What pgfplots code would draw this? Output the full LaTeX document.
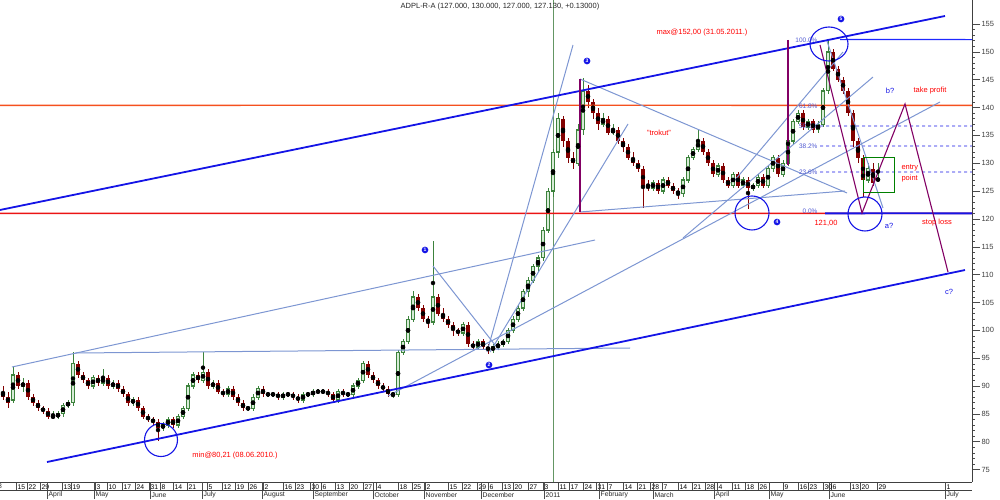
\documentclass[border=0pt]{standalone}
\usepackage{fontspec}
\setmainfont{Liberation Sans}
\usepackage{pgfplots}
\usepackage{pgfplotstable}
\pgfplotsset{compat=1.18}
\definecolor{upg}{RGB}{60,130,60}
\definecolor{dnr}{RGB}{130,0,0}
\definecolor{steel}{RGB}{125,150,210}
\definecolor{chblue}{RGB}{20,20,230}
\definecolor{hblue}{RGB}{30,40,255}
\definecolor{purp}{RGB}{130,0,100}
\definecolor{fibred}{RGB}{245,80,30}
\definecolor{hred}{RGB}{235,20,20}
\definecolor{fibtxt}{RGB}{80,90,210}
\newcommand\fs{\fontsize{7.5}{8}\selectfont}
\pgfplotstableread{
o h l c
89 90 87.5 88
88 89 86 87
87.5 93.5 87 92
92 92.5 89.5 90
90 91.5 89 90.5
90.5 91 87.5 88
88 88.5 86.5 87
87 87.5 85.5 86
86 86.5 85 85.5
85.5 86 84 84.5
84.5 85.5 84 84.5
84.5 85.5 84 85
85 87 84.5 86.5
86.5 87.5 86 87
87 96.2 86.5 94
94 94.5 91.5 92
92 92.5 90.5 91
91 91.5 89.5 90
90 92 89.5 91.5
91.5 92 90 90.5
90.5 93 90 91.5
91.5 92 89.5 90
90 91 89.5 90.5
90.5 91 89 89.5
89.5 90 88 88.5
88.5 89 86.5 87
87 88 86.5 87.5
87.5 88 85.5 86
86 86.5 84 84.5
84.5 85 83.5 84
84 84.5 83 83.5
83.5 84 80.2 82.5
82.5 83.5 82 83
83 84.5 82.5 84
84 84.5 82.5 83
83 85 82.5 84.5
84.5 86.5 84 86
86 90.5 85.5 90
90 92.5 89.5 92
92 92.5 90.5 91
91 96.1 90.5 92.5
92.5 93 89.5 90
90 91 89.5 90.5
90.5 91 88.5 89
89 89.5 88 88.5
88.5 90 88 89.5
89.5 90 87.5 88
88 88.5 86.5 87
87 87.5 85.5 86
86 86.5 85.5 86
86 88.5 85.5 88
88 90 87.5 89.5
89.5 90 88 88.5
88.5 89 88 88.5
88.5 89 88 88.5
88.5 89 87.5 88
88 89 87.5 88.5
88.5 89 88 88.5
88.5 89 87.5 88
88 88.5 87 87.5
87.5 89 87 88.5
88.5 89 88 88.5
88.5 89.5 88 89
89 89.5 88.5 89
89 89.5 88.5 89
89 89.5 88 88.5
88.5 89 87 87.5
87.5 89.5 87 89
89 89.5 88 88.5
88.5 89 88 88.5
88.5 90.5 88 90
90 91.5 89.5 91
91 94.5 90.5 94
94 94.5 91.5 92
92 92.5 90.5 91
91 91.5 89.5 90
90 90.5 89 89.5
89.5 90 88 88.5
88.5 89 87.8 88.5
88.5 96.5 88 96
96 98.5 95.5 98
98 102.5 97.5 102
102 107 101.5 106
106 106.5 103.5 104
104 104.5 101.5 102
102 102.5 100.5 101.5
101.5 116 101 106
106 106.5 102.5 103
103 104 101.5 102
102 102.5 100.5 101
101 101.5 99 100
100 100.5 99 99.5
99.5 101.5 99 101
101 101.5 97 97.5
97.5 98 96.5 97
97 98.5 96.5 98
98 98.5 96.5 97
97 97.5 95.8 96.5
96.5 97.5 96 97
97 98 96.5 97.5
97.5 98.5 97 98
98 100.5 97.5 100
100 102.5 99.5 102
102 104.5 101.5 104
104 107.5 103.5 107
107 109.5 106 109
109 112 108.5 111.5
111.5 113.5 110.5 113
113 118.5 112.5 118
118 125.5 117.5 125
125 132.5 124 132
132 139 131 138
138 138.5 133 134
134 134.5 130 131
131 132 129 130
130 137 129.5 136
136 145.3 135 143
143 144 140 141
141 141.5 138 139
139 140 136 137
137 139 136.5 138
138 138.5 135 135.5
135.5 137 135 136
136 136.5 133.5 134
134 134.5 132 133
133 133.5 130.5 131
131 132 129.5 130
130 130.5 128.5 129
129 129.5 122 126
126 127 125 125.5
125.5 127 125 126.5
126.5 127 124.5 125
125 127.5 124.5 127
127 127.5 125.5 126
126 126.5 124.5 125
125 125.5 123.5 124.5
124.5 127.5 124 127
127 131.5 126.5 131
131 133 130.5 132.5
132.5 136 132 134
134 134.5 131.5 132
132 132.5 129.5 130
130 130.5 127.5 128
128 130 127.5 129.5
129.5 130 126.5 127
127 127.5 125.5 126
126 128.5 125.5 128
128 128.5 125.5 126
126 127.5 125.5 127
127 127.5 121.8 125.5
125.5 126.5 125 126
126 128 125.5 127.5
127.5 128 125.5 126
126 129.5 125.5 129
129 131.5 128.5 131
131 131.5 127.5 128
128 130.5 127.5 130
130 137.5 129.5 134
134 138 133.5 137.5
137.5 139.5 137 139
139 139.5 136 136.5
136.5 138 136 137.5
137.5 138 135.5 136
136 137.5 135.5 137
137 143.5 136.5 143
143 152 142.5 150
150 150.5 146.5 147
147 147.5 144.5 145
145 145.5 142.5 143
143 143.5 138.5 139
139 139.5 133 134
134 134.5 130 131
131 131.5 124 127
127 130 126.5 129
129 130 126 126.5
127 130 127 127.13
}\candles
\pgfplotstableread{
x y
0 140.4
486 140.41
972 140.4
}\lineA
\pgfplotstableread{
x y
0 121
486 121.01
972 121
}\lineB
\pgfplotstableread{
x y
840 152.2
900 152.21
972 152.2
}\lineC
\begin{document}
\begin{tikzpicture}
\useasboundingbox (0,-17pt) rectangle (1000pt,482pt);
\begin{axis}[
  at={(0,0)}, anchor=south west,
  scale only axis, width=972pt, height=482pt,
  xmin=0, xmax=972, ymin=72.77, ymax=159.31,
  axis x line*=bottom, axis y line*=right,
  axis line style={black!75, line width=0.8pt},
  tick align=outside,
  ytick={75,80,...,155}, minor y tick num=4,
  yticklabel style={font=\fs, text=black!75, xshift=-2pt},
  major tick length=8pt, minor tick length=2.5pt,
  every tick/.style={black!70, line width=0.5pt},
  /pgf/number format/assume math mode=true,
  xtick={16,27,40,62,71,95,107,122,135,149,160,173,187,207,222,235,248,263,283,295,310,321,335,349,363,376,398,412,425,448,462,477,488,502,513,528,543,558,569,583,596,607,623,637,650,662,678,692,705,717,732,745,758,783,798,808,823,831,850,860,877,945},
  xticklabels={15,22,29,13,19,3,10,17,24,31,8,14,21,5,12,19,26,2,16,23,30,6,13,20,27,4,18,25,2,15,22,29,6,13,20,27,3,11,17,24,31,7,14,21,28,7,14,21,28,4,11,18,26,9,16,23,30,6,13,20,29,1},
  xticklabel style={font=\fontsize{6.8}{7}\selectfont, anchor=north west, inner sep=0pt, xshift=1.5pt, yshift=5.5pt},
  x tick style={black!70},
  extra x ticks={47,94,150,202,262,313,373,424,481,544,599,653,714,769,829,945},
  extra x tick labels={},
  extra x tick style={major tick length=17pt, tick style={steel!80!black, line width=0.6pt}},
  clip=true,
]
% green vertical
\addplot[draw={rgb,255:red,100;green,150;blue,100}, line width=0.9pt, forget plot] coordinates {(553,72.77) (553,159.31)};
% wicks
\addplot[only marks, mark=none, forget plot, restrict y to domain=50:200,
  error bars/.cd, y dir=both, y explicit, error mark=none, error bar style={draw=upg, line width=0.7pt}]
  table[x expr=\coordindex*5+3, y expr={\thisrow{c}<\thisrow{o} ? 0 : (\thisrow{h}+\thisrow{l})/2}, y error expr={(\thisrow{h}-\thisrow{l})/2}] {\candles};
\addplot[only marks, mark=none, forget plot, restrict y to domain=50:200,
  error bars/.cd, y dir=both, y explicit, error mark=none, error bar style={draw=dnr, line width=0.7pt}]
  table[x expr=\coordindex*5+3, y expr={\thisrow{c}<\thisrow{o} ? (\thisrow{h}+\thisrow{l})/2 : 0}, y error expr={(\thisrow{h}-\thisrow{l})/2}] {\candles};
% up bodies
\addplot[only marks, mark=none, forget plot, restrict y to domain=50:200,
  error bars/.cd, y dir=both, y explicit, error mark=none, error bar style={draw=upg, line width=3.6pt}]
  table[x expr=\coordindex*5+3, y expr={\thisrow{c}<\thisrow{o} ? 0 : (\thisrow{o}+\thisrow{c})/2}, y error expr={max(abs(\thisrow{c}-\thisrow{o})/2,0.12)+0.1}] {\candles};
\addplot[only marks, mark=none, forget plot, restrict y to domain=50:200,
  error bars/.cd, y dir=both, y explicit, error mark=none, error bar style={draw={rgb,255:red,215;green,235;blue,215}, line width=1.6pt}]
  table[x expr=\coordindex*5+3, y expr={\thisrow{c}<\thisrow{o} ? 0 : (\thisrow{o}+\thisrow{c})/2}, y error expr={max(abs(\thisrow{c}-\thisrow{o})/2-0.12,0)}] {\candles};
% down bodies
\addplot[only marks, mark=none, forget plot, restrict y to domain=50:200,
  error bars/.cd, y dir=both, y explicit, error mark=none, error bar style={draw=dnr, line width=3.4pt}]
  table[x expr=\coordindex*5+3, y expr={\thisrow{c}<\thisrow{o} ? (\thisrow{o}+\thisrow{c})/2 : 0}, y error expr={max(abs(\thisrow{c}-\thisrow{o})/2,0.15)}] {\candles};
% horizontal red lines
\addplot[color=fibred, solid, line width=1.4pt, mark=none, forget plot] table[x=x, y=y] {\lineA};
\addplot[color=hred, solid, line width=1.6pt, mark=none, forget plot] table[x=x, y=y] {\lineB};
% blue horizontals
\addplot[color=chblue, solid, line width=1.8pt, mark=none, forget plot] coordinates {(825,121) (900,121.01) (972,121)};
\addplot[color=hblue, solid, line width=1.2pt, mark=none, forget plot] table[x=x, y=y] {\lineC};
% fib dashed
\addplot[color=chblue, dashed, line width=0.7pt, mark=none, forget plot] coordinates {(820,136.69) (900,136.70) (972,136.69)};
\addplot[color=chblue, dashed, line width=0.7pt, mark=none, forget plot] coordinates {(820,133.1) (900,133.11) (972,133.1)};
\addplot[color=chblue, dashed, line width=0.7pt, mark=none, forget plot] coordinates {(820,128.43) (900,128.44) (972,128.43)};
% steel lines
\addplot[draw=steel, line width=1pt, forget plot] coordinates {(12,93.42) (595,116.22)};
\addplot[draw=steel, line width=1pt, forget plot] coordinates {(75,95.93) (630,96.83)};
\addplot[draw=steel, line width=1pt, forget plot] coordinates {(388,88.21) (940,141.0)};
\addplot[draw=steel, line width=1pt, forget plot] coordinates {(580,145.13) (847,124.66)};
\addplot[draw=steel, line width=1pt, forget plot] coordinates {(580,121.25) (845,125.02)};
\addplot[draw=steel, line width=1pt, forget plot] coordinates {(433,111.55) (499,96.47)};
\addplot[draw=steel, line width=1pt, forget plot] coordinates {(487,96.11) (573,151.23)};
\addplot[draw=steel, line width=1pt, forget plot] coordinates {(490,96.11) (628,137.05)};
\addplot[draw=steel, line width=1pt, forget plot] coordinates {(735,127.0) (843,149.97)};
\addplot[draw=steel, line width=1pt, forget plot] coordinates {(683,116.58) (873,145.48)};
\addplot[draw=steel, line width=1pt, forget plot] coordinates {(827,151.95) (883,121.97)};
% channel
\addplot[draw=chblue, line width=1.8pt, forget plot] coordinates {(0,121.61) (945,156.44)};
\addplot[draw=chblue, line width=1.8pt, forget plot] coordinates {(47,76.36) (965,110.83)};
% purple
\addplot[draw=purp, line width=1.1pt, forget plot] coordinates {(580,145.13) (580,121.25)};
\addplot[draw=purp, line width=1.1pt, forget plot] coordinates {(788,152.13) (788,129.69)};
\addplot[draw=purp, line width=1.1pt, forget plot] coordinates {(820,151.23) (862,121.07) (905,140.64) (948,110.47)};
% green box
\addplot[draw=green!50!black, line width=0.9pt, forget plot] coordinates {(863,131.12) (894,131.12) (894,124.84) (863,124.84) (863,131.12)};
% circles
\draw[chblue, line width=1.1pt] (axis cs:161,80.31) circle[radius=16.5pt];
\draw[chblue, line width=1.1pt] (axis cs:752,121.07) circle[radius=17pt];
\draw[chblue, line width=1.1pt] (axis cs:829,151.41) ellipse[x radius=19pt, y radius=17pt];
\draw[chblue, line width=1.1pt] (axis cs:865,120.89) circle[radius=17pt];
% labels
\node[font=\fs, text=black!85] at (axis cs:500,158.2) {ADPL-R-A (127.000, 130.000, 127.000, 127.130, +0.13000)};
\node[font=\fs, text=red] at (axis cs:702,153.38) {max@152,00 (31.05.2011.)};
\node[font=\fs, text=red] at (axis cs:235,77.44) {min@80,21 (08.06.2010.)};
\node[font=\fs, text=red] at (axis cs:659,135.43) {"trokut"};
\node[font=\fs, text=red] at (axis cs:930,142.97) {take profit};
\node[font=\fs, text=chblue] at (axis cs:890,142.97) {b?};
\node[font=\fs, text=red, anchor=west] at (axis cs:898,129.15) {entry};
\node[font=\fs, text=red, anchor=west] at (axis cs:898,127.17) {point};
\node[font=\fs, text=chblue] at (axis cs:889,118.73) {a?};
\node[font=\fs, text=red] at (axis cs:937,119.27) {stop loss};
\node[font=\fs, text=red] at (axis cs:826,119.27) {121,00};
\node[font=\fs, text=chblue] at (axis cs:949,106.88) {c?};
\node[font=\fontsize{6.5}{7}\selectfont, text=fibtxt, anchor=east] at (axis cs:821,152.13) {100.0\%};
\node[font=\fontsize{6.5}{7}\selectfont, text=fibtxt, anchor=east] at (axis cs:821,140.3) {61.8\%};
\node[font=\fontsize{6.5}{7}\selectfont, text=fibtxt, anchor=east] at (axis cs:821,136.69) {50.0\%};
\node[font=\fontsize{6.5}{7}\selectfont, text=fibtxt, anchor=east] at (axis cs:821,133.1) {38.2\%};
\node[font=\fontsize{6.5}{7}\selectfont, text=fibtxt, anchor=east] at (axis cs:821,128.43) {23.6\%};
\node[font=\fontsize{6.5}{7}\selectfont, text=fibtxt, anchor=east] at (axis cs:821,121.43) {0.0\%};
\node[circle, fill=chblue, inner sep=0.8pt, text=white, font=\fontsize{5}{5}\selectfont\bfseries] at (axis cs:425,114.43) {1};
\node[circle, fill=chblue, inner sep=0.8pt, text=white, font=\fontsize{5}{5}\selectfont\bfseries] at (axis cs:489,93.78) {2};
\node[circle, fill=chblue, inner sep=0.8pt, text=white, font=\fontsize{5}{5}\selectfont\bfseries] at (axis cs:587,148.36) {3};
\node[circle, fill=chblue, inner sep=0.8pt, text=white, font=\fontsize{5}{5}\selectfont\bfseries] at (axis cs:777,119.45) {4};
\node[circle, fill=chblue, inner sep=0.8pt, text=white, font=\fontsize{5}{5}\selectfont\bfseries] at (axis cs:841,155.9) {5};
\end{axis}
\draw[black!75, line width=0.6pt] (0,-8.5pt) -- (972pt,-8.5pt);
\begin{scope}[every node/.style={font=\fontsize{6.8}{7}\selectfont, anchor=west, inner sep=0pt, text=black!85}]
\node at (-19pt,-12.9pt) {March};
\node at (-2pt,-4.3pt) {8};
\node at (48.5pt,-12.9pt) {April};
\node at (95.5pt,-12.9pt) {May};
\node at (151.5pt,-12.9pt) {June};
\node at (203.5pt,-12.9pt) {July};
\node at (263.5pt,-12.9pt) {August};
\node at (314.5pt,-12.9pt) {September};
\node at (374.5pt,-12.9pt) {October};
\node at (425.5pt,-12.9pt) {November};
\node at (482.5pt,-12.9pt) {December};
\node at (545.5pt,-12.9pt) {2011};
\node at (600.5pt,-12.9pt) {February};
\node at (654.5pt,-12.9pt) {March};
\node at (715.5pt,-12.9pt) {April};
\node at (770.5pt,-12.9pt) {May};
\node at (830.5pt,-12.9pt) {June};
\node at (946.5pt,-12.9pt) {July};
\end{scope}
\end{tikzpicture}
\end{document}
